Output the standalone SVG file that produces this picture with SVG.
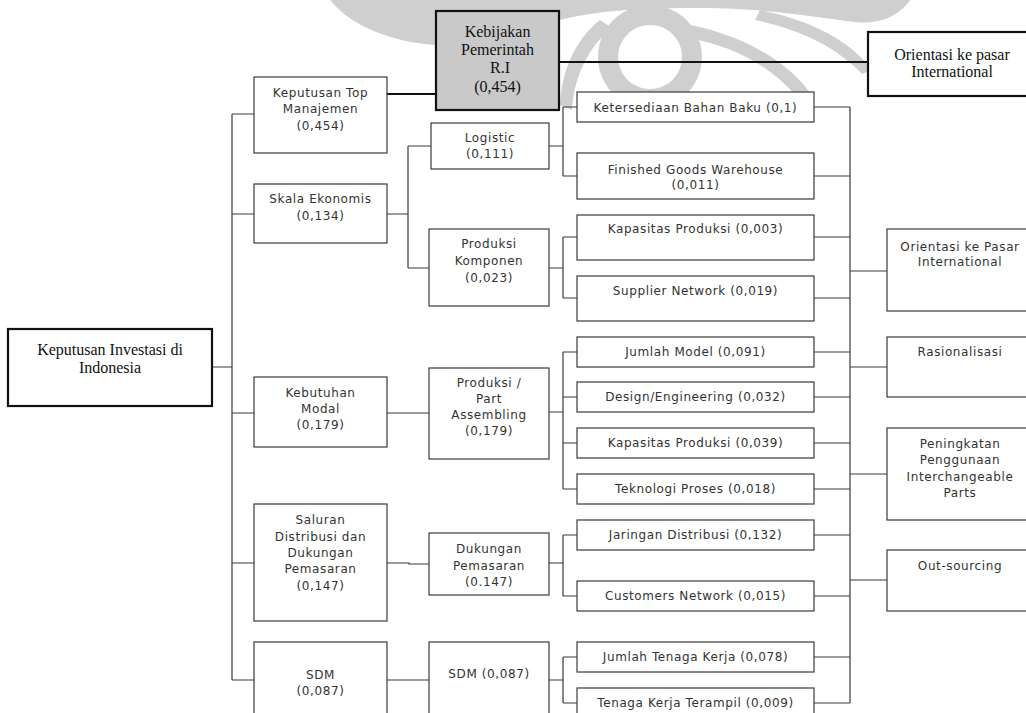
<svg xmlns="http://www.w3.org/2000/svg" width="1026" height="713" viewBox="0 0 1026 713">
<style>
.b{fill:#fff;stroke:#3a3a3a;stroke-width:1.2}
.bt{fill:#fff;stroke:#111;stroke-width:2.2}
.s{font-family:"DejaVu Sans",Verdana,sans-serif;font-size:12px;letter-spacing:0.6px;fill:#333;text-anchor:middle}
.r{font-family:"Liberation Serif","Times New Roman",serif;font-size:16px;fill:#111;text-anchor:middle}
.c{fill:none;stroke:#3a3a3a;stroke-width:1.2}
.ct{fill:none;stroke:#111;stroke-width:2}
.wm{fill:#cfcfcf;stroke:none}
</style>
<g id="watermark">
<path class="wm" d="M330 0 H910 C900 15 880 25 855 22 C800 15 760 8 700 8 C640 8 600 10 560 20 L559 45 L436 45 C390 42 350 25 330 0 Z"/>
<path class="wm" d="M650 5 A52 52 0 1 1 649.9 5 Z M650 25 A32 32 0 1 0 650.1 25 Z" fill-rule="evenodd"/>
<path class="wm" d="M690 25 C740 35 790 60 815 100 C808 101 801 99 796 96 C770 65 730 45 688 38 Z"/>
<path class="wm" d="M760 10 C810 20 850 40 872 70 L862 74 C835 46 800 30 755 20 Z"/>
<path class="wm" d="M600 20 C575 40 562 70 560 105 L572 110 C574 75 590 45 612 28 Z"/>
</g>
<g id="connectors">
<path class="c" d="M212 367 H232 M232 114 V680 M232 114 H254 M232 214 H254 M232 413 H254 M232 563 H254 M232 680 H254"/>
<path class="ct" d="M387 94 H436 M559 62 H868"/>
<path class="c" d="M387 214 H408 M408 146 V268 M408 146 H431 M408 268 H429"/>
<path class="c" d="M549 146 H563 M563 107 V176 M563 107 H577 M563 176 H577"/>
<path class="c" d="M549 268 H563 M563 237 V298 M563 237 H577 M563 298 H577"/>
<path class="c" d="M387 413 H429 M549 412 H563 M563 352 V489 M563 352 H577 M563 397 H577 M563 443 H577 M563 489 H577"/>
<path class="c" d="M387 563 H409 V564 H429 M549 563 H563 M563 535 V596 M563 535 H577 M563 596 H577"/>
<path class="c" d="M387 680 H429 M549 680 H563 M563 657 V703 M563 657 H577 M563 703 H577"/>
<path class="c" d="M850 107 V703 M814 107 H850 M814 176 H850 M814 237 H850 M814 298 H850 M814 352 H850 M814 397 H850 M814 443 H850 M814 489 H850 M814 535 H850 M814 596 H850 M814 657 H850 M814 703 H850"/>
<path class="c" d="M850 271 H887 M850 367 H887 M850 474 H887 M850 580 H887"/>
</g>
<g id="n-investasi"><rect class="bt" x="8" y="329" width="204" height="77"/><text class="r" x="110" y="355">Keputusan Investasi di</text><text class="r" x="110" y="373">Indonesia</text></g>
<g id="n-kebijakan"><rect class="bt" x="436" y="11" width="123" height="99" style="fill:#c9c9c9"/><text class="r" x="497.5" y="37">Kebijakan</text><text class="r" x="497.5" y="55">Pemerintah</text><text class="r" x="500" y="73">R.I</text><text class="r" x="497.5" y="92">(0,454)</text></g>
<g id="n-orientasi-top"><rect class="bt" x="868" y="32" width="165" height="64"/><text class="r" x="952" y="60">Orientasi ke pasar</text><text class="r" x="952" y="77">International</text></g>
<g id="n-topman"><rect class="b" x="254" y="77" width="133" height="76"/><text class="s" x="320.5" y="97">Keputusan Top</text><text class="s" x="320.5" y="113">Manajemen</text><text class="s" x="320.5" y="130">(0,454)</text></g>
<g id="n-skala"><rect class="b" x="254" y="184" width="133" height="59"/><text class="s" x="320.5" y="203">Skala Ekonomis</text><text class="s" x="320.5" y="220">(0,134)</text></g>
<g id="n-modal"><rect class="b" x="254" y="377" width="133" height="70"/><text class="s" x="320.5" y="397">Kebutuhan</text><text class="s" x="320.5" y="413">Modal</text><text class="s" x="320.5" y="429">(0,179)</text></g>
<g id="n-saluran"><rect class="b" x="254" y="504" width="133" height="117"/><text class="s" x="320.5" y="524">Saluran</text><text class="s" x="320.5" y="541">Distribusi dan</text><text class="s" x="320.5" y="557">Dukungan</text><text class="s" x="320.5" y="573">Pemasaran</text><text class="s" x="320.5" y="590">(0,147)</text></g>
<g id="n-sdm"><rect class="b" x="254" y="642" width="133" height="80"/><text class="s" x="320.5" y="679">SDM</text><text class="s" x="320.5" y="695">(0,087)</text></g>
<g id="n-logistic"><rect class="b" x="431" y="123" width="118" height="46"/><text class="s" x="490" y="142">Logistic</text><text class="s" x="490" y="158">(0,111)</text></g>
<g id="n-komponen"><rect class="b" x="429" y="229" width="120" height="77"/><text class="s" x="489" y="248">Produksi</text><text class="s" x="489" y="265">Komponen</text><text class="s" x="489" y="282">(0,023)</text></g>
<g id="n-assembling"><rect class="b" x="429" y="368" width="120" height="91"/><text class="s" x="489" y="387">Produksi /</text><text class="s" x="489" y="403">Part</text><text class="s" x="489" y="419">Assembling</text><text class="s" x="489" y="435">(0,179)</text></g>
<g id="n-dukungan"><rect class="b" x="429" y="533" width="120" height="62"/><text class="s" x="489" y="553">Dukungan</text><text class="s" x="489" y="570">Pemasaran</text><text class="s" x="489" y="586">(0.147)</text></g>
<g id="n-sdm2"><rect class="b" x="429" y="642" width="120" height="80"/><text class="s" x="489" y="678">SDM (0,087)</text></g>
<g id="n-bahanbaku"><rect class="b" x="577" y="92" width="237" height="30"/><text class="s" x="695.5" y="112">Ketersediaan Bahan Baku (0,1)</text></g>
<g id="n-warehouse"><rect class="b" x="577" y="153" width="237" height="46"/><text class="s" x="695.5" y="174">Finished Goods Warehouse</text><text class="s" x="695.5" y="189">(0,011)</text></g>
<g id="n-kapasitas1"><rect class="b" x="577" y="215" width="237" height="45"/><text class="s" x="695.5" y="233">Kapasitas Produksi (0,003)</text></g>
<g id="n-supplier"><rect class="b" x="577" y="276" width="237" height="45"/><text class="s" x="695.5" y="295">Supplier Network (0,019)</text></g>
<g id="n-jmodel"><rect class="b" x="577" y="337" width="237" height="30"/><text class="s" x="695.5" y="356">Jumlah Model (0,091)</text></g>
<g id="n-design"><rect class="b" x="577" y="382" width="237" height="30"/><text class="s" x="695.5" y="401">Design/Engineering (0,032)</text></g>
<g id="n-kapasitas2"><rect class="b" x="577" y="428" width="237" height="30"/><text class="s" x="695.5" y="447">Kapasitas Produksi (0,039)</text></g>
<g id="n-teknologi"><rect class="b" x="577" y="474" width="237" height="30"/><text class="s" x="695.5" y="493">Teknologi Proses (0,018)</text></g>
<g id="n-jaringan"><rect class="b" x="577" y="520" width="237" height="30"/><text class="s" x="695.5" y="539">Jaringan Distribusi (0,132)</text></g>
<g id="n-customers"><rect class="b" x="577" y="581" width="237" height="30"/><text class="s" x="695.5" y="600">Customers Network (0,015)</text></g>
<g id="n-jtenaga"><rect class="b" x="577" y="642" width="237" height="30"/><text class="s" x="695.5" y="661">Jumlah Tenaga Kerja (0,078)</text></g>
<g id="n-terampil"><rect class="b" x="577" y="688" width="237" height="30"/><text class="s" x="695.5" y="707">Tenaga Kerja Terampil (0,009)</text></g>
<g id="n-orientasi"><rect class="b" x="887" y="229" width="146" height="82"/><text class="s" x="960" y="251">Orientasi ke Pasar</text><text class="s" x="960" y="266">International</text></g>
<g id="n-rasional"><rect class="b" x="887" y="337" width="146" height="60"/><text class="s" x="960" y="356">Rasionalisasi</text></g>
<g id="n-peningkatan"><rect class="b" x="887" y="428" width="146" height="92"/><text class="s" x="960" y="448">Peningkatan</text><text class="s" x="960" y="464">Penggunaan</text><text class="s" x="960" y="481">Interchangeable</text><text class="s" x="960" y="497">Parts</text></g>
<g id="n-outsourcing"><rect class="b" x="887" y="550" width="146" height="61"/><text class="s" x="960" y="570">Out-sourcing</text></g>
</svg>
